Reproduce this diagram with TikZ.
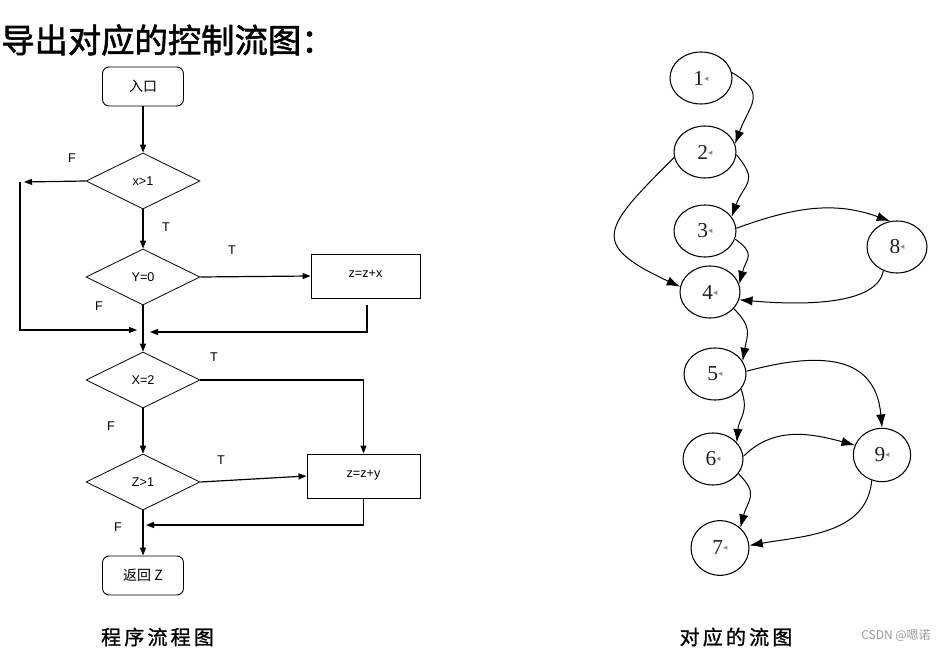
\documentclass[tikz,border=0pt]{standalone}
\usepackage{fontspec}
\setmainfont{Liberation Sans}
\newfontfamily\cjk{Noto Sans CJK SC}
\newfontfamily\cjkfb[FakeBold=1.6]{Noto Sans CJK SC}
\newfontfamily\cjkcap[FakeBold=1.2]{Noto Sans CJK SC}
\newfontfamily\numfont{Liberation Serif}
\newfontfamily\symfont{DejaVu Sans}
\usetikzlibrary{shapes.geometric,arrows.meta}
\definecolor{tri}{gray}{0.55}
\definecolor{wm}{gray}{0.6}
\definecolor{numc}{gray}{0.12}
\newcommand\gnum[1]{\raisebox{-3pt}{\textcolor{numc}{\numfont\fontsize{16}{16}\selectfont #1}\raisebox{3pt}{\textcolor{tri}{\symfont\fontsize{6.5}{6.5}\selectfont ◂}}}}
\newcommand\capsp{\hspace{2.4pt}}
\begin{document}
\begin{tikzpicture}[x=0.75pt,y=-0.75pt,
  ln/.style={line width=0.9pt},
  farr/.style={ln,-{Triangle[length=6pt,width=4.5pt]}},
  garr/.style={line width=0.75pt,-{Latex[length=10pt,width=7pt]}},
  term/.style={draw,line width=0.7pt,rectangle,rounded corners=5pt,minimum width=60.75pt,minimum height=29.25pt,inner sep=0pt,font=\cjk\fontsize{10.5}{12}\selectfont},
  dec/.style={draw,line width=0.6pt,diamond,minimum width=85.5pt,minimum height=42pt,inner sep=0pt,font=\fontsize{9.5}{11}\selectfont},
  proc/.style={draw,line width=0.7pt,rectangle,minimum height=33pt,inner sep=0pt,font=\fontsize{9.5}{11}\selectfont},
  lab/.style={font=\fontsize{9.5}{11}\selectfont,inner sep=0pt},
  gn/.style={draw,line width=0.8pt,ellipse,minimum width=46.5pt,minimum height=39pt,inner sep=0pt}]
\useasboundingbox (0,0) rectangle (946,652);
% title
\node[anchor=west,inner sep=0pt,font=\cjkfb\fontsize{25}{28}\selectfont] (title) at (1,40) {导出对应的控制流图：};
% flowchart
\node[term] (start) at (143,86.5) {入口};
\node[dec] (d1) at (143,181) {x>1};
\node[dec] (d2) at (143,277) {Y=0};
\node[dec] (d3) at (143,380) {X=2};
\node[dec] (d4) at (143,482) {Z>1};
\node[proc,minimum width=81.75pt] (r1) at (365.5,276) {\raisebox{3pt}{z=z+x}};
\node[proc,minimum width=84.75pt] (r2) at (363.5,476) {\raisebox{3pt}{z=z+y}};
\node[term] (ret) at (143,575.5) {返回 Z};
\coordinate (fl) at (24,182);
\coordinate (ftop) at (20,182);
\coordinate (fjoin) at (137,330);
\coordinate (r1out) at (367,305);
\coordinate (r1join) at (150,332);
\coordinate (r2join) at (146,525);
\draw[farr] (start) -- (d1);
\draw[farr] (d1.west) -- (fl);
\draw[farr] (ftop) |- (fjoin);
\draw[farr] (d1) -- (d2);
\draw[farr] (d2.east) -- (r1.west);
\draw[farr] (r1out) |- (r1join);
\draw[farr] (d2) -- (d3);
\draw[farr] (d3.east) -| (r2.north);
\draw[farr] (d3) -- (d4);
\draw[farr] (d4.east) -- (r2.west);
\draw[farr] (r2.south) |- (r2join);
\draw[farr] (d4) -- (ret);
\node[lab] (lf1) at (72,158) {F};
\node[lab] (lt1) at (166,227) {T};
\node[lab] (lt2) at (232,250) {T};
\node[lab] (lf2) at (99,306) {F};
\node[lab] (lt3) at (214,357) {T};
\node[lab] (lf3) at (111,426) {F};
\node[lab] (lt4) at (221,460) {T};
\node[lab] (lf4) at (118,527) {F};
% flow graph
\node[gn] (n1) at (701,78) {\gnum{1}};
\node[gn] (n2) at (705,152) {\gnum{2}};
\node[gn] (n3) at (705,231) {\gnum{3}};
\node[gn,minimum width=45pt] (n8) at (897,247) {\gnum{8}};
\node[gn,minimum width=45pt] (n4) at (710,292) {\gnum{4}};
\node[gn] (n5) at (715,374) {\gnum{5}};
\node[gn,minimum width=45pt] (n6) at (713,459) {\gnum{6}};
\node[gn,minimum width=43pt,minimum height=40pt] (n9) at (882,455) {\gnum{9}};
\node[gn,minimum width=43.5pt,minimum height=41pt] (n7) at (720,548) {\gnum{7}};
\draw[garr] (n1.10) to[out=-30,in=70,looseness=1.5] (n2.15);
\draw[garr] (n2.-5) to[out=-50,in=70,looseness=1.5] (n3.28);
\draw[garr] (n2.190) to[out=-135,in=155,looseness=2] (n4.170);
\draw[garr] (n3.5) to[out=20,in=160] (n8.105);
\draw[garr] (n3.-15) to[out=-35,in=75,looseness=1.5] (n4.15);
\draw[garr] (n8.-120) to[out=-100,in=-5,looseness=0.7] (n4.-15);
\draw[garr] (n4.-35) to[out=-45,in=80,looseness=1.3] (n5.25);
\draw[garr] (n5.5) to[out=15,in=95,looseness=1.3] (n9.90);
\draw[garr] (n5.-30) to[out=-70,in=85,looseness=1.2] (n6.35);
\draw[garr] (n6.5) to[out=45,in=165] (n9.160);
\draw[garr] (n6.-30) to[out=-45,in=75,looseness=1.4] (n7.45);
\draw[garr] (n9.-112) to[out=-95,in=10] (n7.5);
% captions
\node[inner sep=0pt,font=\cjkcap\fontsize{15}{17}\selectfont] (cap1) at (157.5,637) {程\capsp 序\capsp 流\capsp 程\capsp 图};
\node[inner sep=0pt,font=\cjkcap\fontsize{15}{17}\selectfont] (cap2) at (736,637) {对\capsp 应\capsp 的\capsp 流\capsp 图};
\node[inner sep=0pt,text=wm,font=\cjk\fontsize{9}{10}\selectfont] (wmk) at (896,635) {CSDN @嗯诺};
\end{tikzpicture}
\end{document}
